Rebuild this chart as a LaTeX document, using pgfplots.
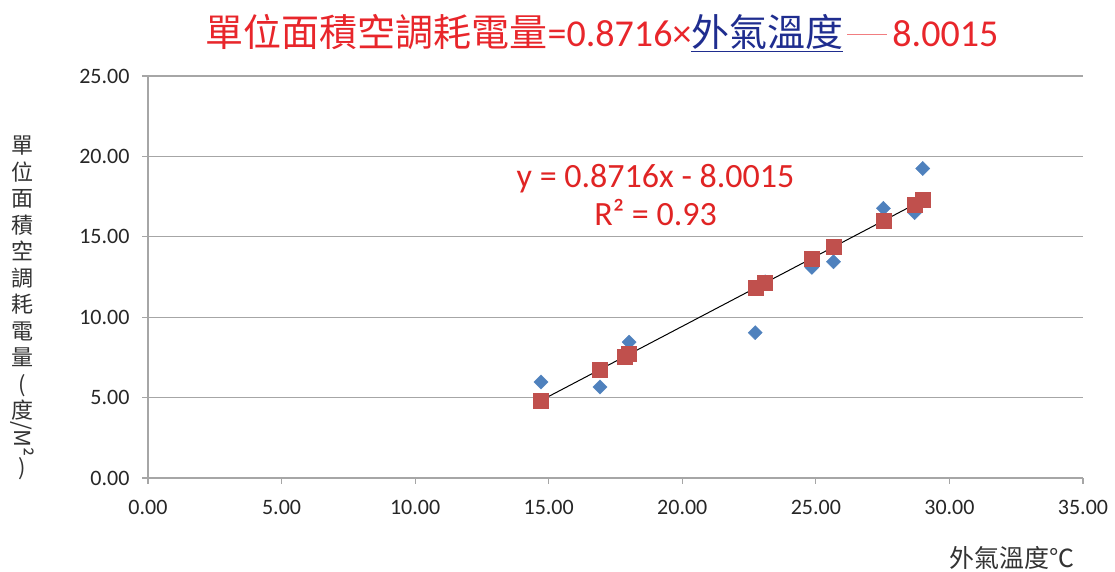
\documentclass[border=0pt]{standalone}
\usepackage{fontspec}
\usepackage{graphicx}
\setmainfont{Carlito}
\newfontfamily\cjk{Noto Sans CJK TC}
\usepackage{pgfplots}
\pgfplotsset{compat=1.18}
\definecolor{ser1}{HTML}{4F81BD}
\definecolor{ser2}{HTML}{C0504D}
\definecolor{titlered}{HTML}{E8262B}
\definecolor{eqred}{HTML}{E02424}
\definecolor{navy}{HTML}{1F2D8F}
\definecolor{gridgray}{HTML}{A6A6A6}
\begin{document}
\begin{tikzpicture}[x=1pt,y=1pt]
\path[use as bounding box] (0,0) rectangle (1115,572);
\begin{axis}[
  at={(148pt,94pt)}, anchor=south west,
  scale only axis, width=935pt, height=402pt,
  xmin=0, xmax=35, ymin=0, ymax=25,
  xtick={0,5,...,35}, ytick={0,5,...,25},
  ymajorgrids, grid style={gridgray, line width=1.2pt},
  axis x line*=bottom, axis y line*=left,
  axis line style={gridgray, line width=1.2pt, -},
  tick align=outside, major tick length=6pt,
  tick style={gridgray, line width=1.2pt},
  tick label style={font=\fontsize{22}{26}\selectfont, text=black!85},
  yticklabel style={xshift=-9pt},
  xticklabel style={yshift=-13pt},
  /pgf/number format/.cd, fixed, fixed zerofill, precision=2, assume math mode=true,
  /pgfplots/.cd,
  clip=false,
]
\addplot[only marks, mark=square*, mark size=5pt, mark options={rotate=45, fill=ser1, draw=ser1}] coordinates {
(14.71,5.97) (16.92,5.66) (17.85,7.70) (18.01,8.45) (22.73,9.04) (23.10,12.20)
(24.85,13.10) (25.66,13.45) (27.53,16.77) (28.70,16.50) (29.00,19.25)
};
\addplot[only marks, mark=square*, mark size=7.5pt, mark options={fill=ser2, draw=ser2}] coordinates {
(14.71,4.82) (16.92,6.75) (17.85,7.56) (18.01,7.70) (22.73,11.81) (23.10,12.13)
(24.85,13.66) (25.66,14.36) (27.53,15.99) (28.70,17.01) (29.00,17.28)
};
\addplot[black, line width=1pt, no marks] coordinates {(14.71,4.82) (29.00,17.28)};
\node[text=eqred, align=center, font=\fontsize{34}{38}\selectfont] at (axis cs:19.0,17.6) {y = 0.8716x - 8.0015\\R² = 0.93};
\end{axis}
\node[text=titlered, font=\fontsize{38}{42}\selectfont] at (602,539) {{\cjk\fontsize{38}{42}\selectfont 單位面積空調耗電量}=0.8716×\textcolor{navy}{\underline{\cjk\fontsize{38}{42}\selectfont 外氣溫度}}\hspace{4pt}\textcolor{titlered!60}{\rule[0.3em]{40pt}{1.5pt}}\hspace{5pt}8.0015};
\node[align=center, text=black!80, font=\cjk\fontsize{22}{26.5}\selectfont] at (22,264) {單\\位\\面\\積\\空\\調\\耗\\電\\量\\(\\度\\\rotatebox[origin=c]{-90}{/M²}\\)};
\node[text=black!80, font=\cjk\fontsize{25}{28}\selectfont] at (1012,14) {外氣溫度℃};
\end{tikzpicture}
\end{document}
